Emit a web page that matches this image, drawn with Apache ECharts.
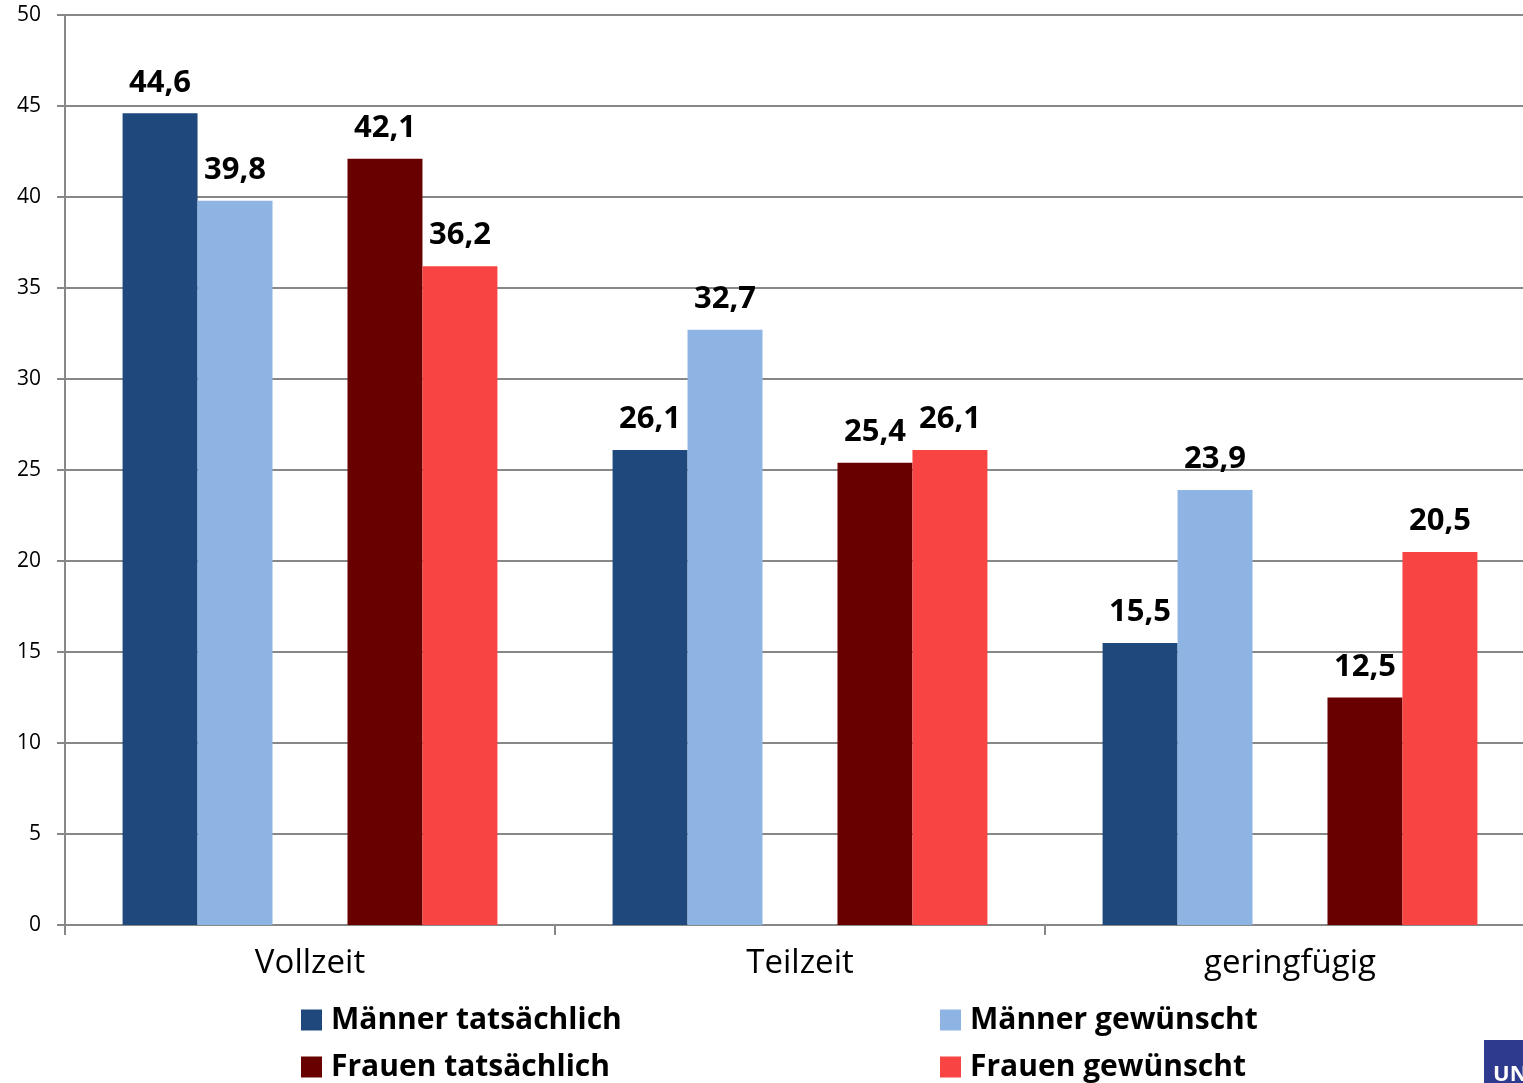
<!DOCTYPE html>
<html>
<head>
<meta charset="utf-8">
<script src="https://cdn.jsdelivr.net/npm/echarts@6/dist/echarts.min.js"></script>
<style>
  html, body { margin: 0; padding: 0; background: #fff; }
  #chart { width: 1523px; height: 1083px; }
</style>
</head>
<body>
<div id="chart"></div>
<script>
// Arbeitszeit in Stunden pro Woche: tatsächlich vs. gewünscht
const categories = ['Vollzeit', 'Teilzeit', 'geringfügig'];
const maennerTatsaechlich = [44.6, 26.1, 15.5];
const maennerGewuenscht = [39.8, 32.7, 23.9];
const frauenTatsaechlich = [42.1, 25.4, 12.5];
const frauenGewuenscht = [36.2, 26.1, 20.5];
const yTicks = [0, 5, 10, 15, 20, 25, 30, 35, 40, 45, 50];

const FONT = '"Open Sans", Lato, "Noto Sans", sans-serif';
const GRAY = '#878787';

const valueLabel = {
  show: true,
  position: 'top',
  distance: 15,
  color: '#000',
  fontFamily: FONT,
  fontWeight: 'bold',
  fontSize: 31,
  formatter: p => String(p.value).replace('.', ',')
};

function bar(name, data, color) {
  return {
    name: name,
    type: 'bar',
    data: data,
    barGap: '0%',
    barCategoryGap: '23.5%',
    itemStyle: { color: color },
    label: valueLabel,
    emphasis: { disabled: true }
  };
}

const legendText = {
  color: '#000',
  fontFamily: FONT,
  fontWeight: 'bold',
  fontSize: 30,
  lineHeight: 30,
  padding: [0, 0, 0, 4]
};

function legendColumn(left, names) {
  return {
    orient: 'vertical',
    left: left,
    top: 1005,
    padding: 0,
    itemWidth: 21,
    itemHeight: 21,
    itemGap: 17,
    icon: 'rect',
    data: names,
    textStyle: legendText,
    selectedMode: false
  };
}

const chart = echarts.init(document.getElementById('chart'), null, { renderer: 'canvas' });
chart.setOption({
  animation: false,
  backgroundColor: '#fff',
  grid: {
    left: 65, width: 1470, top: 15, bottom: 158,
    containLabel: false,
    outerBoundsMode: 'none'
  },
  xAxis: {
    type: 'category',
    data: categories,
    axisLine: { show: true, lineStyle: { color: GRAY, width: 2 } },
    axisTick: { show: true, length: 10, alignWithLabel: false, lineStyle: { color: GRAY, width: 2 } },
    axisLabel: { color: '#000', fontFamily: FONT, fontSize: 33, margin: 22 }
  },
  yAxis: {
    type: 'value',
    min: yTicks[0],
    max: yTicks[yTicks.length - 1],
    interval: yTicks[1] - yTicks[0],
    axisLine: { show: true, lineStyle: { color: GRAY, width: 2 } },
    axisTick: { show: true, length: 8, lineStyle: { color: GRAY, width: 2 } },
    splitLine: { show: true, lineStyle: { color: GRAY, width: 2 } },
    axisLabel: { color: '#000', fontFamily: FONT, fontSize: 21, margin: 24 }
  },
  legend: [
    legendColumn(301, ['Männer tatsächlich', 'Frauen tatsächlich']),
    legendColumn(940, ['Männer gewünscht', 'Frauen gewünscht'])
  ],
  series: [
    bar('Männer tatsächlich', maennerTatsaechlich, '#1F497D'),
    bar('Männer gewünscht', maennerGewuenscht, '#8EB4E3'),
    // leerer Platzhalter zwischen Männer- und Frauenbalken
    bar('', categories.map(() => null), 'transparent'),
    bar('Frauen tatsächlich', frauenTatsaechlich, '#690000'),
    bar('Frauen gewünscht', frauenGewuenscht, '#F84442')
  ],
  graphic: [
    {
      type: 'rect',
      left: 1484,
      top: 1040,
      shape: { width: 60, height: 50 },
      style: { fill: '#2E3A8E' }
    },
    {
      type: 'text',
      left: 1493,
      top: 1064,
      style: { text: 'UNI', fill: '#fff', font: 'bold 22px ' + FONT }
    }
  ]
});
</script>
</body>
</html>
